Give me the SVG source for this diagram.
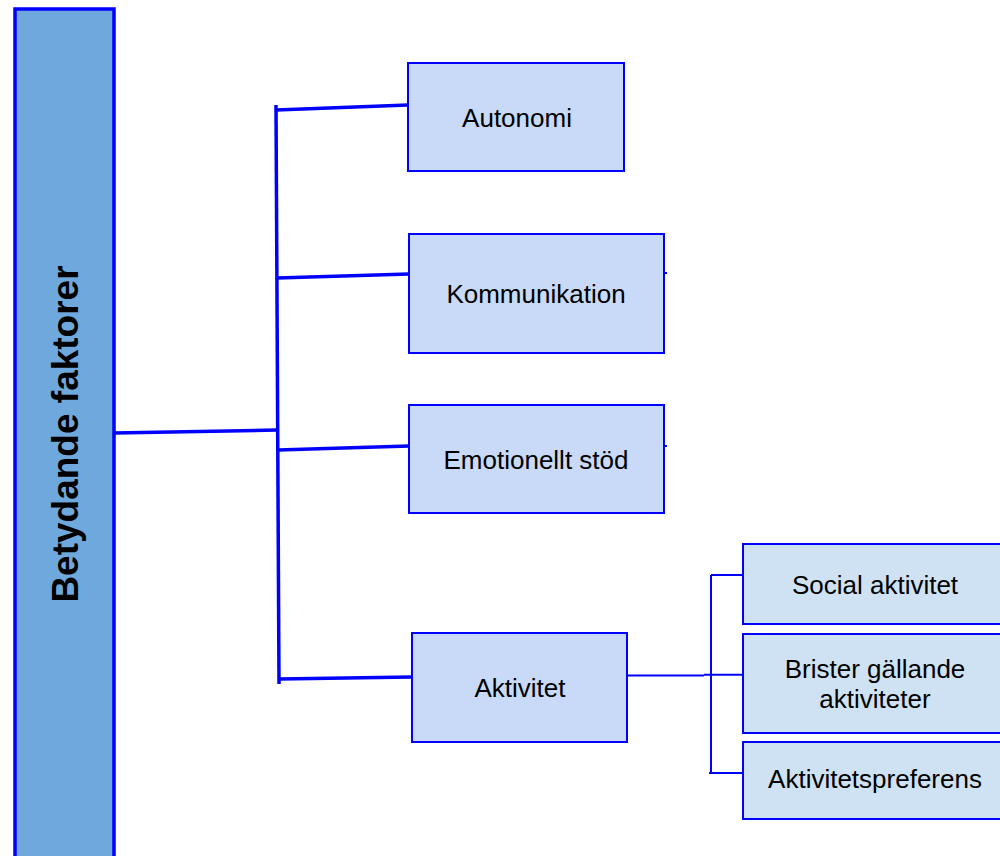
<svg xmlns="http://www.w3.org/2000/svg" width="1000" height="856" viewBox="0 0 1000 856">
<style>
.box{fill:#c9daf8;stroke:#0000ff;stroke-width:2}
.sub{fill:#cfe2f3;stroke:#0000ff;stroke-width:2}
.lbl{font-family:"Liberation Sans",Arial,sans-serif;font-size:26px;fill:#000;text-anchor:middle}
.thick{stroke:#0000ff;stroke-width:3.5;fill:none}
.thin{stroke:#0000ff;stroke-width:2;fill:none}
</style>
<rect x="0" y="0" width="1000" height="856" fill="#fff"/>
<g id="connectors">
<line class="thick" x1="114" y1="433" x2="277" y2="430"/>
<line class="thick" x1="276" y1="105" x2="279" y2="684"/>
<line class="thick" x1="276" y1="110" x2="408" y2="105"/>
<line class="thick" x1="277" y1="278" x2="409" y2="274"/>
<line class="thick" x1="278" y1="450" x2="409" y2="446"/>
<line class="thick" x1="279" y1="679" x2="412" y2="677"/>
<line class="thin" x1="664" y1="273" x2="667" y2="273"/>
<line class="thin" x1="664" y1="446" x2="667" y2="446"/>
<line class="thin" x1="627" y1="675.5" x2="704" y2="675.5"/>
<line class="thin" x1="704" y1="674.8" x2="743" y2="674.8"/>
<line class="thin" x1="711" y1="575" x2="711" y2="773"/>
<line class="thin" x1="711" y1="575" x2="743" y2="575"/>
<line class="thin" x1="709" y1="773" x2="743" y2="773"/>
</g>
<g id="betydande">
<rect x="15" y="9" width="99" height="860" fill="#6fa8dc" stroke="#0000ff" stroke-width="3.5"/>
<text transform="translate(78,434) rotate(-90)" font-family="'Liberation Sans',Arial,sans-serif" font-size="37" font-weight="bold" text-anchor="middle" fill="#000">Betydande faktorer</text>
</g>
<g id="autonomi">
<rect class="box" x="408" y="63" width="216" height="108"/>
<text class="lbl" x="517" y="127">Autonomi</text>
</g>
<g id="kommunikation">
<rect class="box" x="409" y="234" width="255" height="119"/>
<text class="lbl" x="536" y="303">Kommunikation</text>
</g>
<g id="emotionellt">
<rect class="box" x="409" y="405" width="255" height="108"/>
<text class="lbl" x="536" y="469">Emotionellt stöd</text>
</g>
<g id="aktivitet">
<rect class="box" x="412" y="633" width="215" height="109"/>
<text class="lbl" x="520" y="697">Aktivitet</text>
</g>
<g id="social">
<rect class="sub" x="743" y="544" width="270" height="80"/>
<text class="lbl" x="875" y="594">Social aktivitet</text>
</g>
<g id="brister">
<rect class="sub" x="743" y="634" width="270" height="99"/>
<text class="lbl" x="875" y="678">Brister gällande</text>
<text class="lbl" x="875" y="708">aktiviteter</text>
</g>
<g id="preferens">
<rect class="sub" x="743" y="742" width="270" height="77"/>
<text class="lbl" x="875" y="788">Aktivitetspreferens</text>
</g>
</svg>
